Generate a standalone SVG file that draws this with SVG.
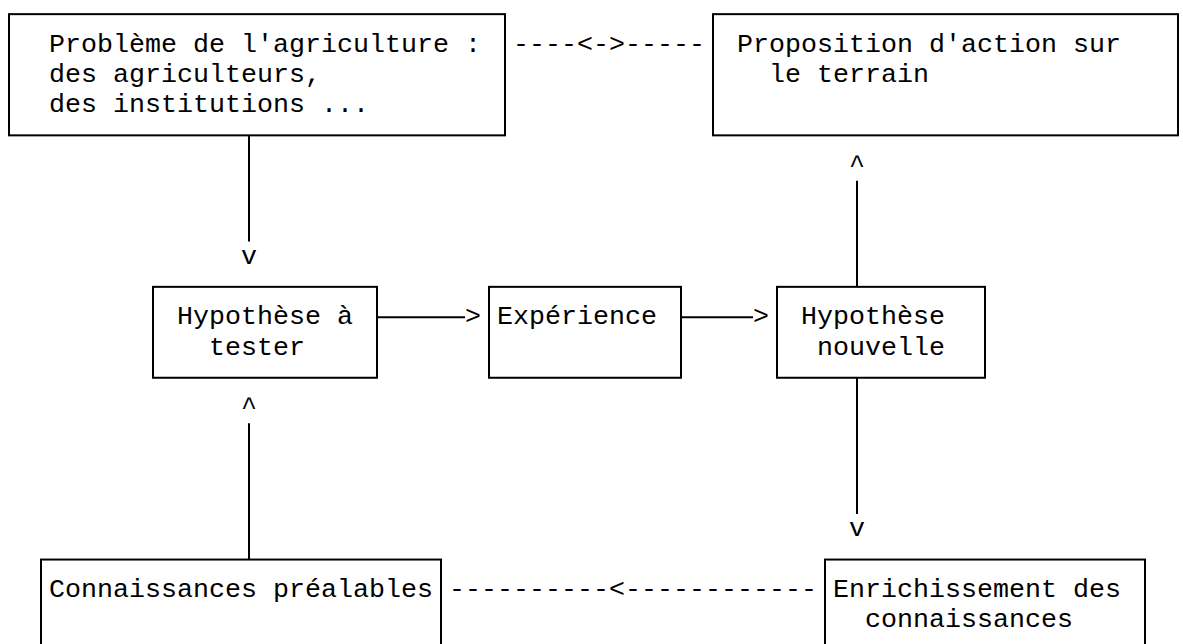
<svg xmlns="http://www.w3.org/2000/svg" width="1183" height="644" viewBox="0 0 1183 644">
<style>
.t{font-family:"Liberation Mono","Courier New",monospace;font-size:26.67px;fill:#000}
.b{fill:none;stroke:#000;stroke-width:2}
.c{stroke:#000;stroke-width:2;fill:none}
</style>
<rect width="1183" height="644" fill="#fff"/>
<g id="n1">
<rect class="b" x="9" y="14.15" width="496" height="121.2"/>
<text class="t" x="49" y="51.5">Problème de l'agriculture :</text>
<text class="t" x="49" y="81.8">des agriculteurs,</text>
<text class="t" x="49" y="112.1">des institutions ...</text>
</g>
<g id="n2">
<rect class="b" x="713" y="14.15" width="465" height="121.2"/>
<text class="t" x="737" y="51.5">Proposition d'action sur</text>
<text class="t" x="769" y="81.8">le terrain</text>
</g>
<g id="n3">
<rect class="b" x="153" y="286.85" width="224" height="90.9"/>
<text class="t" x="177" y="324.2">Hypothèse à</text>
<text class="t" x="209" y="354.5">tester</text>
</g>
<g id="n4">
<rect class="b" x="489" y="286.85" width="192" height="90.9"/>
<text class="t" x="497" y="324.2">Expérience</text>
</g>
<g id="n5">
<rect class="b" x="777" y="286.85" width="208" height="90.9"/>
<text class="t" x="801" y="324.2">Hypothèse</text>
<text class="t" x="817" y="354.5">nouvelle</text>
</g>
<g id="n6">
<rect class="b" x="41" y="559.55" width="400" height="90.9"/>
<text class="t" x="49" y="596.9">Connaissances préalables</text>
</g>
<g id="n7">
<rect class="b" x="825" y="559.55" width="320" height="90.9"/>
<text class="t" x="833" y="596.9">Enrichissement des</text>
<text class="t" x="865" y="627.2">connaissances</text>
</g>
<g id="connectors">
<line class="c" x1="249" y1="135.35" x2="249" y2="241.4"/>
<text class="t" x="241" y="263.6">v</text>
<line class="c" x1="377" y1="317.15" x2="465" y2="317.15"/>
<text class="t" x="465" y="324.2">&gt;</text>
<line class="c" x1="681" y1="317.15" x2="753" y2="317.15"/>
<text class="t" x="753" y="324.2">&gt;</text>
<line class="c" x1="857" y1="180.8" x2="857" y2="286.85"/>
<text class="t" x="849" y="172.7">^</text>
<line class="c" x1="857" y1="377.75" x2="857" y2="514"/>
<text class="t" x="849" y="536.3">v</text>
<line class="c" x1="249" y1="423.2" x2="249" y2="559.55"/>
<text class="t" x="241" y="415.1">^</text>
<text class="t" x="513" y="51.5">----&lt;-&gt;-----</text>
<text class="t" x="449" y="596.9">----------&lt;------------</text>
</g>
</svg>
